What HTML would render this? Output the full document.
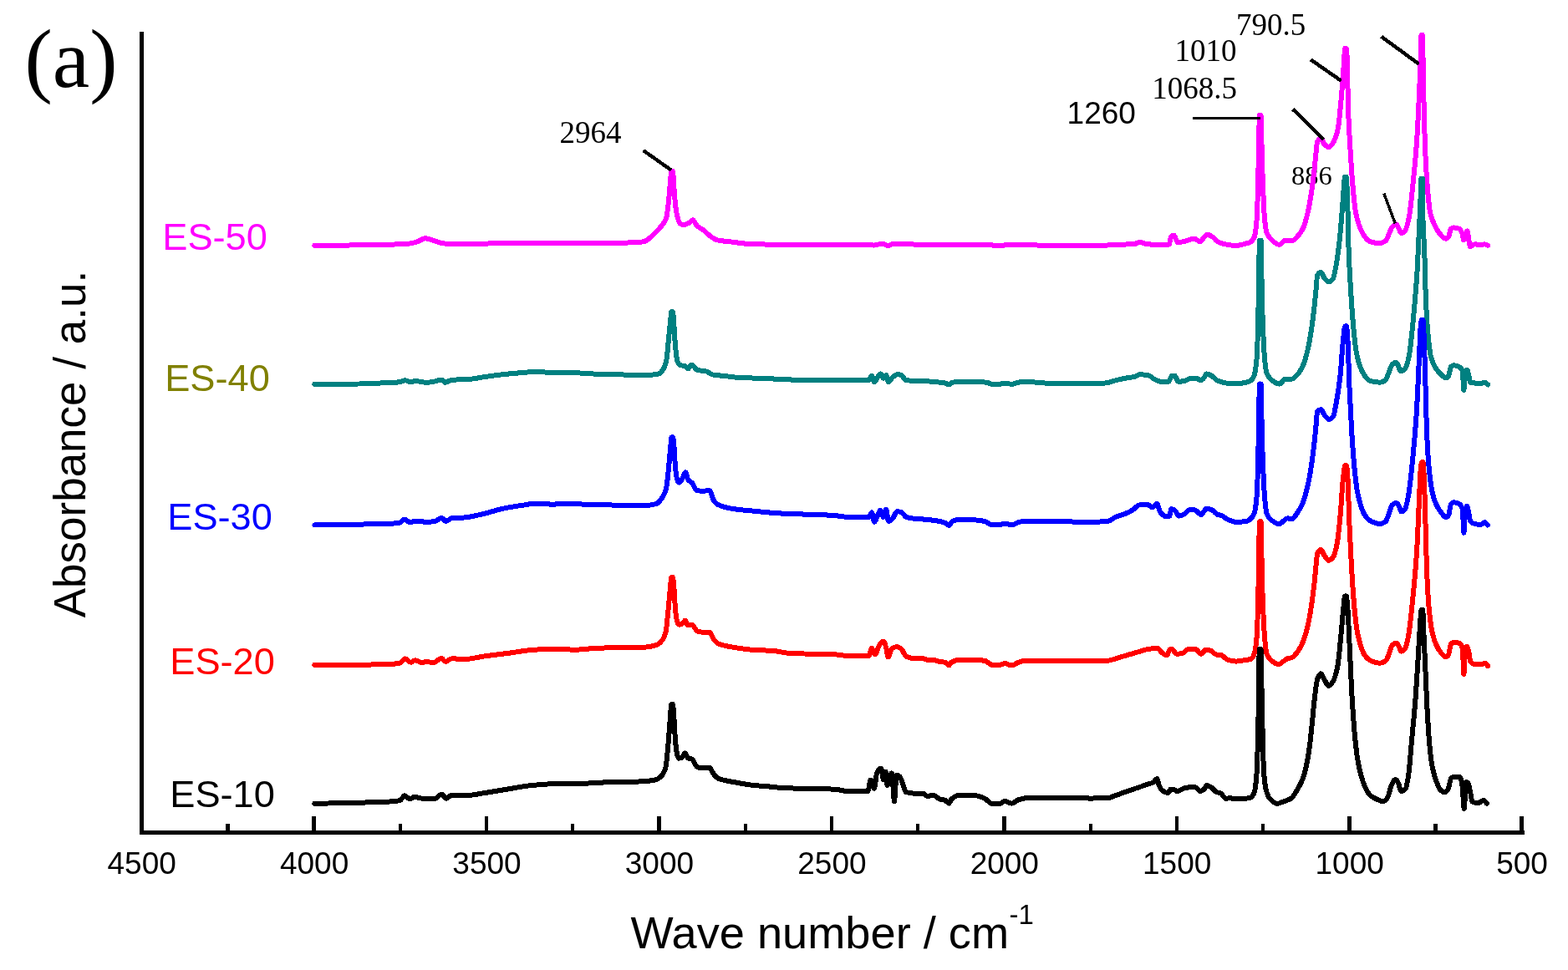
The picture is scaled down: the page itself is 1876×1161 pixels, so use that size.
<!DOCTYPE html>
<html lang="en"><head><meta charset="utf-8"><title>FTIR spectra (a)</title>
<style>
html,body{margin:0;padding:0;background:#fff;}
body{width:1876px;height:1161px;overflow:hidden;}
svg{display:block;}
.sans{font-family:"Liberation Sans",Arial,Helvetica,sans-serif;}
.serif{font-family:"Liberation Serif","Times New Roman",Times,serif;}
.curve{fill:none;stroke-width:6.0;stroke-linejoin:round;stroke-linecap:round;shape-rendering:crispEdges;}
.ann{stroke:#000;stroke-linecap:butt;fill:none;shape-rendering:crispEdges;}
</style></head><body>
<svg width="1876" height="1161" viewBox="0 0 1876 1161">
<rect x="0" y="0" width="1876" height="1161" fill="#ffffff"/>
<g class="serif" font-size="37" fill="#000">
<text x="669.5" y="170.8">2964</text>
<text x="1479.1" y="42">790.5</text>
<text x="1405.5" y="73.2">1010</text>
<text x="1378.3" y="118">1068.5</text>
<text x="1545" y="221.2" font-size="32.5">886</text>
</g>
<text class="sans" x="1276.6" y="148" font-size="37" fill="#000">1260</text>
<path class="curve" stroke="#ff00ff" d="M376.4,293.8C387.6,293.7 398.9,293.7 410.1,293.6C425.1,293.5 440.2,293.1 455.2,292.8C465.2,292.6 475.3,292.6 485.3,292.1C489.5,291.9 493.6,290.9 497.8,289.8C501.6,288.8 505.3,285.3 509.1,285.3C512.8,285.3 516.6,287.5 520.3,288.5C524.5,289.6 528.7,291.6 532.9,291.6C547.1,291.6 561.3,291.6 575.5,291.6C590.5,291.6 605.6,290.8 620.6,290.8C650.6,290.8 680.7,290.8 710.7,290.8C727.4,290.8 744.2,290.7 760.9,290.3C764.2,290.2 767.6,289.7 770.9,289.0C773.4,288.4 775.9,286.0 778.4,284.0C781.3,281.7 784.3,278.5 787.2,275.3C789.0,273.4 790.7,271.5 792.5,269.0C794.0,266.9 795.5,265.7 797.0,261.5C797.8,259.2 798.7,252.0 799.5,245.2C800.3,238.4 801.2,226.3 802.0,217.6C802.4,213.1 802.9,204.6 803.3,204.6C803.8,204.6 804.4,204.6 804.9,204.6C805.3,204.6 805.7,215.0 806.1,220.1C806.8,228.6 807.4,239.7 808.1,245.2C808.9,252.1 809.8,257.3 810.6,260.2C811.7,263.9 812.7,267.2 813.8,267.8C815.1,268.5 816.3,269.0 817.6,269.0C819.7,269.0 821.7,268.1 823.8,267.2C825.5,266.5 827.2,263.2 828.9,263.2C830.6,263.2 832.2,268.8 833.9,270.3C836.4,272.6 838.9,273.4 841.4,275.3C844.3,277.5 847.2,280.8 850.1,282.8C852.6,284.6 855.2,286.7 857.7,287.3C863.5,288.6 869.4,288.8 875.2,289.5C882.7,290.4 890.3,291.9 897.8,292.1C912.0,292.5 926.1,292.8 940.3,292.8C973.7,292.8 1007.2,292.8 1040.6,292.8C1042.3,292.8 1043.9,293.6 1045.6,293.6C1048.9,293.6 1052.3,291.6 1055.6,291.6C1057.9,291.6 1060.3,294.1 1062.6,294.1C1064.4,294.1 1066.3,291.8 1068.1,291.8C1072.3,291.8 1076.4,292.2 1080.6,292.3C1097.3,292.6 1114.0,292.8 1130.7,292.8C1147.4,292.8 1164.2,292.8 1180.9,292.8C1185.1,292.8 1189.2,294.1 1193.4,294.1C1199.2,294.1 1205.1,292.8 1210.9,292.8C1227.4,292.8 1244.0,293.9 1260.5,293.9C1267.9,293.9 1275.2,293.9 1282.6,293.9C1295.7,293.9 1308.8,293.8 1321.9,293.6C1328.7,293.5 1335.5,293.0 1342.3,292.7C1347.4,292.5 1352.6,292.4 1357.7,291.9C1359.7,291.7 1361.7,289.8 1363.7,289.8C1365.7,289.8 1367.6,291.1 1369.6,291.5C1372.5,292.1 1375.3,292.5 1378.2,292.7C1382.2,293.0 1386.1,293.2 1390.1,293.2C1392.9,293.2 1395.8,293.1 1398.6,292.7C1399.5,292.6 1400.3,284.1 1401.2,283.3C1402.3,282.3 1403.5,281.6 1404.6,281.6C1406.0,281.6 1407.5,290.2 1408.9,290.2C1411.7,290.2 1414.6,289.4 1417.4,288.8C1421.1,288.0 1424.8,285.6 1428.5,285.6C1431.1,285.6 1433.6,289.3 1436.2,289.3C1437.6,289.3 1439.0,285.5 1440.4,284.2C1441.8,282.8 1443.3,280.8 1444.7,280.8C1447.0,280.8 1449.2,282.7 1451.5,284.2C1452.9,285.2 1454.4,287.6 1455.8,288.5C1458.9,290.4 1462.1,291.6 1465.2,292.2C1469.7,293.1 1474.3,293.9 1478.8,293.9C1483.4,293.9 1487.9,292.3 1492.5,291.0C1493.7,290.7 1494.9,290.4 1496.1,289.7C1497.5,288.9 1499.0,287.5 1500.4,284.4C1501.5,282.0 1502.7,274.6 1503.8,260.4C1504.4,252.5 1505.1,218.3 1505.7,193.6C1506.1,176.7 1506.6,137.7 1507.0,137.7C1507.5,137.7 1508.1,137.7 1508.6,137.7C1509.1,137.7 1509.5,179.5 1510.0,193.6C1511.0,222.8 1511.9,250.0 1512.9,260.4C1513.7,269.0 1514.5,275.4 1515.3,277.7C1516.9,282.4 1518.5,284.1 1520.1,285.7C1523.7,289.3 1527.2,292.9 1530.8,292.9C1533.0,292.9 1535.3,287.9 1537.5,287.9C1540.2,287.9 1542.8,288.4 1545.5,288.4C1547.7,288.4 1550.0,285.4 1552.2,283.1C1554.4,280.9 1556.6,278.1 1558.8,273.7C1560.5,270.3 1562.2,264.4 1563.9,257.7C1565.3,252.2 1566.7,244.7 1568.1,236.3C1569.4,228.3 1570.8,218.3 1572.1,206.9C1572.9,200.0 1573.7,189.9 1574.5,182.9C1575.1,178.0 1575.6,170.7 1576.2,169.6C1577.5,166.9 1578.9,165.5 1580.2,165.5C1581.5,165.5 1582.9,170.8 1584.2,172.2C1586.0,174.1 1587.8,176.2 1589.6,176.2C1591.4,176.2 1593.1,173.5 1594.9,170.9C1596.9,168.0 1598.9,162.7 1600.9,153.5C1602.1,147.8 1603.4,132.2 1604.6,118.8C1605.8,106.1 1606.9,90.1 1608.1,73.4C1608.4,68.6 1608.8,58.0 1609.1,58.0C1609.6,58.0 1610.2,58.0 1610.7,58.0C1611.1,58.0 1611.5,65.0 1611.9,73.4C1612.2,80.4 1612.6,116.5 1612.9,126.8C1613.8,154.7 1614.7,165.3 1615.6,180.2C1616.7,199.0 1617.9,216.4 1619.0,228.3C1620.1,239.5 1621.1,249.6 1622.2,255.0C1624.0,264.1 1625.8,269.4 1627.6,273.7C1629.3,277.8 1631.1,280.9 1632.8,283.1C1634.9,285.8 1636.9,288.6 1639.0,289.2C1643.0,290.4 1647.0,291.1 1651.0,291.1C1653.2,291.1 1655.5,290.0 1657.7,288.4C1659.0,287.5 1660.4,283.2 1661.7,280.4C1663.0,277.6 1664.4,273.0 1665.7,271.6C1667.2,270.0 1668.7,268.4 1670.2,268.4C1671.4,268.4 1672.5,271.7 1673.7,273.7C1674.6,275.3 1675.5,279.1 1676.4,279.1C1677.9,279.1 1679.4,277.9 1680.9,276.4C1682.5,274.8 1684.2,268.1 1685.8,260.4C1687.4,253.0 1688.9,235.6 1690.5,220.3C1692.1,204.3 1693.8,188.8 1695.4,164.2C1696.4,148.6 1697.5,124.5 1698.5,100.1C1699.1,86.7 1699.6,78.8 1700.2,54.7C1700.3,51.9 1700.3,41.7 1700.4,41.7C1700.9,41.7 1701.5,41.7 1702.0,41.7C1702.1,41.7 1702.3,55.6 1702.4,62.7C1702.8,82.1 1703.1,105.9 1703.5,121.5C1704.1,145.6 1704.6,166.9 1705.2,180.2C1706.0,199.7 1706.9,212.9 1707.7,223.0C1708.9,237.1 1710.0,249.9 1711.2,255.0C1713.2,263.7 1715.2,267.1 1717.2,271.0C1719.6,275.6 1722.0,279.4 1724.4,281.7C1726.2,283.5 1728.0,285.7 1729.8,285.7C1730.9,285.7 1732.1,284.6 1733.2,283.1C1734.1,281.9 1735.0,274.4 1735.9,273.7C1737.0,272.9 1738.0,272.4 1739.1,272.4C1741.3,272.4 1743.6,272.9 1745.8,273.7C1747.1,274.2 1748.5,276.7 1749.8,280.4C1750.2,281.6 1750.7,287.1 1751.1,287.1C1751.7,287.1 1752.4,281.8 1753.0,280.4C1753.9,278.5 1754.8,276.4 1755.7,276.4C1756.2,276.4 1756.8,284.2 1757.3,287.1C1757.9,290.3 1758.5,295.1 1759.1,295.1C1760.9,295.1 1762.7,292.4 1764.5,292.4C1766.7,292.4 1769.0,292.9 1771.2,292.9C1773.0,292.9 1774.7,292.4 1776.5,292.4C1777.8,292.4 1779.0,293.3 1780.3,293.7"/>
<path class="curve" stroke="#008080" d="M376.4,459.8C394.3,459.7 412.2,459.7 430.1,459.5C438.5,459.4 446.8,458.9 455.2,458.5C462.7,458.2 470.3,458.1 477.8,457.3C480.1,457.1 482.5,455.3 484.8,455.3C487.0,455.3 489.3,457.3 491.5,457.3C493.2,457.3 494.8,456.0 496.5,456.0C501.1,456.0 505.7,457.8 510.3,457.8C513.6,457.8 517.0,457.1 520.3,456.5C523.0,456.0 525.7,454.5 528.4,454.5C529.7,454.5 531.1,457.8 532.4,457.8C535.1,457.8 537.7,455.0 540.4,454.8C547.1,454.3 553.7,454.4 560.4,454.0C567.1,453.6 573.8,451.9 580.5,451.0C587.2,450.1 593.8,449.0 600.5,448.3C608.9,447.4 617.2,446.7 625.6,446.0C632.3,445.5 638.9,444.5 645.6,444.5C648.9,444.5 652.3,446.0 655.6,446.0C664.0,446.0 672.3,446.0 680.7,446.0C692.4,446.0 704.1,447.4 715.8,447.8C725.8,448.1 735.8,448.5 745.8,448.5C757.5,448.5 769.2,448.5 780.9,448.5C783.4,448.5 785.9,448.0 788.4,447.3C790.2,446.8 792.0,444.4 793.8,441.5C795.0,439.5 796.3,436.2 797.5,430.2C798.3,426.2 799.2,413.5 800.0,405.2C800.8,396.9 801.7,387.7 802.5,380.1C802.8,377.7 803.0,373.3 803.3,373.3C803.8,373.3 804.4,373.3 804.9,373.3C805.3,373.3 805.7,380.4 806.1,385.1C806.8,392.9 807.4,408.7 808.1,415.2C808.9,423.3 809.8,430.7 810.6,432.7C811.7,435.3 812.7,436.9 813.8,437.2C815.5,437.6 817.1,437.4 818.8,437.8C820.2,438.1 821.7,441.5 823.1,441.5C824.6,441.5 826.1,436.5 827.6,436.5C829.7,436.5 831.8,442.2 833.9,442.8C837.6,443.9 841.4,443.6 845.1,444.5C847.6,445.1 850.2,448.0 852.7,448.5C856.9,449.3 861.0,449.4 865.2,449.8C871.9,450.5 878.5,451.7 885.2,452.0C893.6,452.4 901.9,452.5 910.3,452.8C918.6,453.1 927.0,453.6 935.3,454.0C942.0,454.3 948.7,454.7 955.4,454.8C970.4,455.1 985.5,455.3 1000.5,455.3C1013.4,455.3 1026.4,455.3 1039.3,455.3C1040.6,455.3 1041.8,449.8 1043.1,449.8C1044.1,449.8 1045.1,457.3 1046.1,457.3C1047.4,457.3 1048.8,453.2 1050.1,451.5C1051.3,450.0 1052.4,447.3 1053.6,447.3C1054.7,447.3 1055.7,452.8 1056.8,452.8C1057.9,452.8 1059.0,449.0 1060.1,449.0C1061.1,449.0 1062.1,457.3 1063.1,457.3C1064.8,457.3 1066.4,452.8 1068.1,451.5C1070.2,449.8 1072.3,447.8 1074.4,447.8C1075.6,447.8 1076.9,448.4 1078.1,449.0C1080.2,450.0 1082.3,455.1 1084.4,455.3C1091.1,455.8 1097.7,455.7 1104.4,456.0C1109.0,456.2 1113.6,456.6 1118.2,457.0C1122.4,457.4 1126.5,457.7 1130.7,458.5C1132.2,458.8 1133.8,460.3 1135.3,460.3C1136.7,460.3 1138.1,458.2 1139.5,457.8C1142.4,457.1 1145.4,456.5 1148.3,456.5C1155.8,456.5 1163.3,456.7 1170.8,457.0C1174.2,457.1 1177.5,457.4 1180.9,457.8C1183.0,458.1 1185.0,459.8 1187.1,459.8C1190.0,459.8 1193.0,459.8 1195.9,459.8C1198.0,459.8 1200.0,458.5 1202.1,458.5C1204.9,458.5 1207.6,459.8 1210.4,459.8C1213.1,459.8 1215.7,458.3 1218.4,457.8C1220.9,457.3 1223.4,456.5 1225.9,456.5C1234.0,456.5 1242.1,458.5 1250.2,458.5C1274.1,458.5 1298.0,458.5 1321.9,458.5C1326.4,458.5 1331.0,456.2 1335.5,455.1C1338.9,454.3 1342.4,453.5 1345.8,452.8C1349.8,452.0 1353.7,451.8 1357.7,450.8C1359.7,450.3 1361.7,448.2 1363.7,448.2C1367.4,448.2 1371.1,448.8 1374.8,449.6C1377.1,450.1 1379.3,453.2 1381.6,454.2C1384.4,455.5 1387.3,457.1 1390.1,457.1C1392.7,457.1 1395.2,457.1 1397.8,457.1C1399.2,457.1 1400.6,450.1 1402.0,449.9C1403.2,449.7 1404.3,449.6 1405.5,449.6C1406.9,449.6 1408.3,456.8 1409.7,456.8C1412.3,456.8 1414.8,456.4 1417.4,455.9C1420.0,455.4 1422.5,452.5 1425.1,452.5C1427.4,452.5 1429.6,452.7 1431.9,453.0C1433.3,453.2 1434.8,455.1 1436.2,455.1C1437.3,455.1 1438.5,454.2 1439.6,453.3C1441.0,452.2 1442.4,447.4 1443.8,447.4C1445.8,447.4 1447.8,448.8 1449.8,449.9C1451.8,451.0 1453.8,454.2 1455.8,455.1C1460.1,457.1 1464.3,458.5 1468.6,458.8C1472.0,459.1 1475.4,459.3 1478.8,459.3C1483.4,459.3 1487.9,458.4 1492.5,457.3C1493.7,457.0 1494.9,456.6 1496.1,455.8C1497.5,454.9 1499.0,453.1 1500.4,449.7C1501.5,447.0 1502.7,440.6 1503.8,427.0C1504.4,419.4 1505.1,387.9 1505.7,360.2C1506.1,341.2 1506.6,287.5 1507.0,287.5C1507.5,287.5 1508.1,287.5 1508.6,287.5C1509.1,287.5 1509.5,344.6 1510.0,360.2C1511.0,392.5 1511.9,415.9 1512.9,427.0C1513.7,436.2 1514.5,443.3 1515.3,445.7C1516.9,450.4 1518.5,452.3 1520.1,453.7C1523.7,456.9 1527.2,459.6 1530.8,459.6C1533.0,459.6 1535.3,453.7 1537.5,453.7C1540.2,453.7 1542.8,453.7 1545.5,453.7C1547.7,453.7 1550.0,450.8 1552.2,448.4C1554.4,446.1 1556.6,442.5 1558.8,437.7C1560.5,434.0 1562.2,428.4 1563.9,421.7C1565.3,416.2 1566.7,408.7 1568.1,400.3C1569.4,392.3 1570.8,382.3 1572.1,370.9C1572.9,364.0 1573.7,355.0 1574.5,346.9C1575.1,341.1 1575.6,330.2 1576.2,329.3C1577.6,327.0 1579.1,326.1 1580.5,326.1C1581.7,326.1 1583.0,330.7 1584.2,332.2C1586.0,334.5 1587.8,337.5 1589.6,337.5C1591.4,337.5 1593.1,335.9 1594.9,333.5C1596.1,331.8 1597.4,324.2 1598.6,317.5C1600.0,309.7 1601.5,298.7 1602.9,285.5C1604.2,273.2 1605.6,253.2 1606.9,237.4C1607.6,228.7 1608.4,211.6 1609.1,211.6C1609.6,211.6 1610.2,211.6 1610.7,211.6C1611.2,211.6 1611.6,225.5 1612.1,237.4C1612.6,249.3 1613.0,283.0 1613.5,296.1C1614.4,321.3 1615.3,335.1 1616.2,349.6C1617.3,367.8 1618.5,383.4 1619.6,395.0C1620.7,405.9 1621.7,416.1 1622.8,421.7C1624.5,430.6 1626.2,436.2 1627.9,440.4C1629.5,444.5 1631.2,447.6 1632.8,449.7C1634.9,452.4 1636.9,455.2 1639.0,455.8C1643.0,457.0 1647.0,457.7 1651.0,457.7C1653.2,457.7 1655.5,456.6 1657.7,455.0C1659.0,454.0 1660.4,448.8 1661.7,445.7C1663.0,442.6 1664.4,437.7 1665.7,436.4C1667.2,435.0 1668.7,433.7 1670.2,433.7C1671.1,433.7 1672.0,436.0 1672.9,437.7C1673.8,439.3 1674.6,444.4 1675.5,444.4C1677.3,444.4 1679.1,443.3 1680.9,441.7C1682.5,440.3 1684.1,434.2 1685.7,427.0C1687.3,419.9 1688.8,402.5 1690.4,386.9C1692.0,370.6 1693.7,353.5 1695.3,328.2C1696.3,312.2 1697.4,287.0 1698.4,264.1C1699.0,251.5 1699.5,240.7 1700.1,224.0C1700.2,221.0 1700.3,213.5 1700.4,213.5C1700.9,213.5 1701.5,213.5 1702.0,213.5C1702.0,213.5 1702.1,240.5 1702.1,242.7C1702.8,290.8 1703.6,279.3 1704.3,301.5C1704.9,318.7 1705.4,347.5 1706.0,360.2C1706.8,378.9 1707.7,391.5 1708.5,400.3C1709.7,412.6 1710.8,422.5 1712.0,427.0C1713.8,434.0 1715.7,437.5 1717.5,440.4C1719.8,444.1 1722.1,446.3 1724.4,448.4C1726.2,450.0 1728.0,452.4 1729.8,452.4C1730.9,452.4 1732.1,451.2 1733.2,449.7C1734.1,448.5 1735.0,439.9 1735.9,439.0C1737.0,437.9 1738.0,437.2 1739.1,437.2C1741.3,437.2 1743.6,437.9 1745.8,439.0C1747.1,439.6 1748.5,440.7 1749.8,444.4C1750.3,445.9 1750.9,467.0 1751.4,467.0C1751.9,467.0 1752.5,450.9 1753.0,448.4C1753.7,445.1 1754.4,442.5 1755.1,442.5C1755.8,442.5 1756.6,446.9 1757.3,449.7C1757.9,452.0 1758.5,457.5 1759.1,457.7C1760.9,458.3 1762.7,458.3 1764.5,458.5C1766.7,458.8 1769.0,459.1 1771.2,459.1C1773.0,459.1 1774.7,457.7 1776.5,457.7C1777.8,457.7 1779.0,459.5 1780.3,460.4"/>
<path class="curve" stroke="#0000ff" d="M376.4,628.5C387.6,628.3 398.9,628.2 410.1,628.0C425.1,627.7 440.2,627.5 455.2,627.0C462.7,626.8 470.3,626.8 477.8,626.0C479.9,625.8 481.9,621.5 484.0,621.5C486.1,621.5 488.2,625.3 490.3,625.3C492.4,625.3 494.4,623.5 496.5,623.5C501.1,623.5 505.7,624.8 510.3,624.8C513.6,624.8 517.0,624.5 520.3,624.0C523.0,623.6 525.7,619.8 528.4,619.8C530.1,619.8 531.7,624.0 533.4,624.0C535.7,624.0 538.1,620.6 540.4,620.3C545.4,619.8 550.4,619.9 555.4,619.5C563.8,618.8 572.1,616.4 580.5,614.5C587.2,613.0 593.8,610.4 600.5,609.0C608.9,607.2 617.2,605.9 625.6,604.7C630.6,604.0 635.6,602.7 640.6,602.7C644.8,602.7 648.9,602.7 653.1,602.7C655.6,602.7 658.1,604.0 660.6,604.0C664.0,604.0 667.3,602.7 670.7,602.7C674.9,602.7 679.0,603.1 683.2,603.2C694.1,603.5 704.9,603.7 715.8,604.0C724.1,604.2 732.5,604.7 740.8,604.7C752.5,604.7 764.2,604.7 775.9,604.7C779.2,604.7 782.6,603.9 785.9,602.7C788.1,601.9 790.3,598.6 792.5,595.2C794.0,592.9 795.5,590.7 797.0,585.2C798.0,581.5 799.0,569.6 800.0,560.1C800.8,552.1 801.7,540.9 802.5,532.6C802.8,529.3 803.2,523.3 803.5,523.3C804.0,523.3 804.6,523.3 805.1,523.3C805.5,523.3 805.9,528.6 806.3,532.6C806.9,538.6 807.5,554.4 808.1,560.1C808.8,566.5 809.4,572.2 810.1,573.9C810.9,576.0 811.8,577.7 812.6,577.7C814.1,577.7 815.6,573.9 817.1,571.4C818.1,569.7 819.1,565.2 820.1,565.2C821.1,565.2 822.1,572.5 823.1,573.9C824.8,576.2 826.4,576.4 828.1,578.2C830.0,580.3 832.0,586.9 833.9,587.2C836.0,587.5 838.0,587.7 840.1,587.7C843.0,587.7 846.0,587.2 848.9,587.2C850.6,587.2 852.2,596.7 853.9,599.0C855.6,601.3 857.2,603.2 858.9,604.0C866.0,607.3 873.1,608.5 880.2,609.5C886.9,610.5 893.6,610.8 900.3,611.5C907.0,612.2 913.6,613.0 920.3,613.5C930.3,614.3 940.4,615.0 950.4,615.3C958.7,615.5 967.1,615.6 975.4,615.8C983.8,616.1 992.1,616.6 1000.5,617.3C1005.5,617.7 1010.5,619.0 1015.5,619.0C1023.4,619.0 1031.4,619.0 1039.3,619.0C1040.6,619.0 1041.8,613.3 1043.1,613.3C1044.1,613.3 1045.1,624.8 1046.1,624.8C1047.2,624.8 1048.2,621.1 1049.3,619.0C1050.6,616.5 1051.8,610.8 1053.1,610.8C1054.3,610.8 1055.6,619.0 1056.8,619.0C1057.9,619.0 1059.0,609.8 1060.1,609.8C1061.1,609.8 1062.1,624.0 1063.1,624.0C1064.8,624.0 1066.4,622.0 1068.1,620.3C1069.8,618.6 1071.4,612.3 1073.1,612.3C1074.8,612.3 1076.4,612.5 1078.1,612.8C1080.2,613.2 1082.3,618.3 1084.4,619.0C1088.2,620.2 1091.9,620.7 1095.7,621.0C1098.6,621.2 1101.5,621.3 1104.4,621.5C1108.6,621.8 1112.8,622.2 1117.0,622.8C1121.6,623.4 1126.1,624.1 1130.7,625.8C1132.2,626.4 1133.8,629.0 1135.3,629.0C1136.7,629.0 1138.1,624.7 1139.5,624.0C1142.4,622.5 1145.4,621.5 1148.3,621.5C1154.1,621.5 1160.0,621.9 1165.8,622.3C1170.0,622.6 1174.1,623.1 1178.3,624.0C1181.2,624.6 1184.2,628.3 1187.1,628.3C1190.0,628.3 1193.0,628.3 1195.9,628.3C1198.0,628.3 1200.0,626.5 1202.1,626.5C1204.9,626.5 1207.6,628.5 1210.4,628.5C1213.1,628.5 1215.7,626.1 1218.4,625.3C1220.9,624.6 1223.4,623.5 1225.9,623.5C1238.0,623.5 1250.1,623.9 1262.2,624.1C1276.4,624.3 1290.6,624.8 1304.8,624.8C1311.6,624.8 1318.5,624.5 1325.3,623.9C1328.7,623.6 1332.1,619.9 1335.5,618.5C1338.9,617.1 1342.4,616.5 1345.8,615.1C1349.2,613.7 1352.6,612.0 1356.0,609.9C1358.3,608.5 1360.5,604.7 1362.8,604.5C1366.2,604.2 1369.6,604.0 1373.0,604.0C1375.0,604.0 1377.0,607.4 1379.0,607.4C1380.7,607.4 1382.4,602.8 1384.1,602.8C1385.5,602.8 1387.0,611.6 1388.4,613.3C1390.7,616.0 1392.9,618.5 1395.2,618.5C1396.6,618.5 1398.1,618.3 1399.5,617.6C1400.1,617.3 1400.6,609.1 1401.2,609.1C1402.6,609.1 1404.1,609.9 1405.5,610.8C1407.2,611.8 1408.9,617.6 1410.6,617.6C1412.9,617.6 1415.1,616.3 1417.4,615.1C1419.4,614.1 1421.4,610.3 1423.4,610.3C1425.4,610.3 1427.3,610.3 1429.3,610.3C1431.9,610.3 1434.4,615.9 1437.0,615.9C1439.3,615.9 1441.5,608.6 1443.8,608.6C1446.1,608.6 1448.4,609.7 1450.7,610.8C1452.7,611.7 1454.6,615.3 1456.6,615.9C1458.0,616.4 1459.5,616.4 1460.9,616.8C1463.5,617.6 1466.0,620.4 1468.6,621.5C1472.0,623.0 1475.4,624.9 1478.8,624.9C1483.4,624.9 1487.9,624.5 1492.5,623.6C1493.7,623.4 1494.9,622.3 1496.1,621.2C1497.5,619.9 1499.0,618.5 1500.4,615.0C1501.5,612.2 1502.7,605.9 1503.8,592.3C1504.4,584.7 1505.1,552.2 1505.7,525.6C1506.1,507.4 1506.6,459.5 1507.0,459.5C1507.5,459.5 1508.1,459.5 1508.6,459.5C1509.1,459.5 1509.5,510.6 1510.0,525.6C1511.0,556.7 1511.9,580.0 1512.9,592.3C1513.7,602.4 1514.5,611.3 1515.3,613.7C1516.9,618.6 1518.5,620.4 1520.1,621.7C1523.7,624.7 1527.2,627.1 1530.8,627.1C1532.6,627.1 1534.3,624.4 1536.1,623.1C1537.4,622.2 1538.8,620.4 1540.1,620.4C1541.9,620.4 1543.7,621.2 1545.5,621.2C1547.7,621.2 1550.0,616.8 1552.2,613.7C1554.4,610.6 1556.6,607.0 1558.8,601.7C1560.5,597.6 1562.2,591.3 1563.9,584.3C1565.3,578.6 1566.7,571.4 1568.1,563.0C1569.4,555.0 1570.8,545.0 1572.1,533.6C1572.9,526.7 1573.7,517.7 1574.5,509.6C1575.1,503.9 1575.6,492.8 1576.2,492.2C1577.6,490.7 1579.1,490.1 1580.5,490.1C1581.7,490.1 1583.0,494.6 1584.2,496.2C1586.1,498.6 1587.9,501.8 1589.8,501.8C1591.5,501.8 1593.2,500.7 1594.9,498.9C1596.1,497.6 1597.4,489.2 1598.6,482.8C1600.2,474.5 1601.8,464.8 1603.4,450.8C1604.6,440.6 1605.7,418.7 1606.9,408.1C1607.7,400.8 1608.5,390.3 1609.3,390.3C1609.8,390.3 1610.4,390.3 1610.9,390.3C1611.4,390.3 1612.0,399.7 1612.5,408.1C1613.1,418.1 1613.8,446.6 1614.4,461.5C1615.3,482.6 1616.2,500.4 1617.1,514.9C1618.2,533.1 1619.4,548.7 1620.5,560.3C1621.6,571.2 1622.6,581.0 1623.7,587.0C1625.2,595.6 1626.8,601.1 1628.3,605.7C1629.8,610.2 1631.3,614.1 1632.8,616.4C1634.9,619.5 1636.9,622.0 1639.0,623.1C1643.0,625.3 1647.0,627.1 1651.0,627.1C1653.2,627.1 1655.5,626.0 1657.7,624.4C1659.0,623.4 1660.4,618.3 1661.7,615.0C1663.0,611.7 1664.4,605.6 1665.7,604.4C1667.3,602.9 1668.9,601.8 1670.5,601.8C1671.6,601.8 1672.6,603.9 1673.7,605.7C1674.6,607.2 1675.5,612.4 1676.4,612.4C1677.9,612.4 1679.4,611.3 1680.9,609.7C1682.3,608.2 1683.8,600.1 1685.2,592.3C1686.8,583.8 1688.3,567.9 1689.9,552.3C1691.5,536.1 1693.2,518.8 1694.8,493.5C1695.8,477.5 1696.9,451.5 1697.9,429.4C1698.5,417.3 1699.0,397.8 1699.6,392.0C1700.0,387.5 1700.5,383.0 1700.9,383.0C1701.4,383.0 1702.0,383.0 1702.5,383.0C1703.0,383.0 1703.4,397.3 1703.9,408.1C1704.4,420.5 1705.0,443.4 1705.5,461.5C1706.1,480.7 1706.6,507.5 1707.2,520.2C1708.0,538.9 1708.9,551.5 1709.7,560.3C1710.9,572.6 1712.0,581.5 1713.2,587.0C1714.8,594.6 1716.4,599.4 1718.0,603.0C1720.1,607.8 1722.3,611.0 1724.4,613.7C1726.2,615.9 1728.0,619.1 1729.8,619.1C1730.9,619.1 1732.1,618.0 1733.2,616.4C1734.1,615.1 1735.0,604.8 1735.9,603.6C1737.0,602.2 1738.0,601.2 1739.1,601.2C1741.3,601.2 1743.6,601.9 1745.8,603.0C1747.1,603.7 1748.5,605.1 1749.8,609.7C1750.3,611.5 1750.9,637.7 1751.4,637.7C1751.9,637.7 1752.5,617.0 1753.0,613.7C1753.7,609.3 1754.4,605.7 1755.1,605.7C1755.8,605.7 1756.6,610.4 1757.3,613.7C1757.9,616.4 1758.5,623.2 1759.1,623.9C1760.9,626.1 1762.7,626.7 1764.5,627.1C1766.7,627.6 1769.0,627.9 1771.2,627.9C1773.0,627.9 1774.7,625.2 1776.5,625.2C1777.6,625.2 1778.7,627.3 1779.8,628.4"/>
<path class="curve" stroke="#ff0000" d="M376.4,795.8C387.6,795.8 398.9,795.8 410.1,795.8C425.1,795.8 440.2,795.6 455.2,795.3C462.7,795.1 470.3,795.0 477.8,794.0C480.1,793.7 482.5,788.3 484.8,788.3C487.0,788.3 489.3,792.8 491.5,792.8C493.2,792.8 494.8,790.3 496.5,790.3C499.0,790.3 501.6,792.8 504.1,792.8C506.2,792.8 508.2,792.3 510.3,792.3C513.2,792.3 516.2,792.8 519.1,792.8C522.2,792.8 525.3,787.8 528.4,787.8C529.9,787.8 531.4,792.0 532.9,792.0C535.4,792.0 537.9,788.3 540.4,788.3C545.4,788.3 550.4,789.0 555.4,789.0C563.8,789.0 572.1,786.4 580.5,785.3C590.5,783.9 600.5,782.8 610.5,781.5C619.7,780.3 628.9,778.3 638.1,777.8C649.8,777.1 661.5,776.5 673.2,776.5C677.4,776.5 681.5,777.8 685.7,777.8C695.7,777.8 705.8,776.0 715.8,775.7C734.2,775.1 752.5,775.4 770.9,774.7C775.1,774.5 779.2,773.8 783.4,772.7C785.6,772.1 787.8,770.9 790.0,769.0C792.1,767.2 794.2,764.4 796.3,757.7C797.4,754.3 798.4,740.5 799.5,730.1C800.3,722.0 801.2,710.8 802.0,702.6C802.4,698.3 802.9,690.8 803.3,690.8C803.8,690.8 804.4,690.8 804.9,690.8C805.4,690.8 805.8,697.6 806.3,702.6C806.9,709.0 807.5,724.4 808.1,730.1C808.8,736.5 809.4,742.2 810.1,743.9C810.9,746.0 811.8,747.7 812.6,747.7C813.8,747.7 815.1,747.1 816.3,746.4C817.4,745.8 818.5,742.7 819.6,742.7C820.8,742.7 821.9,748.4 823.1,748.4C824.8,748.4 826.4,747.7 828.1,747.7C830.0,747.7 832.0,754.4 833.9,755.2C835.6,755.9 837.2,756.5 838.9,756.5C842.2,756.5 845.6,756.5 848.9,756.5C850.6,756.5 852.2,763.1 853.9,765.2C855.6,767.3 857.2,769.5 858.9,770.2C866.0,773.3 873.1,774.0 880.2,775.2C886.9,776.3 893.6,777.3 900.3,777.8C908.6,778.4 917.0,778.4 925.3,779.0C932.0,779.5 938.7,781.7 945.4,782.0C955.4,782.5 965.4,782.5 975.4,782.8C983.8,783.0 992.1,783.1 1000.5,783.5C1004.7,783.7 1008.8,784.8 1013.0,784.8C1021.8,784.8 1030.5,784.8 1039.3,784.8C1040.6,784.8 1041.8,775.7 1043.1,775.7C1044.3,775.7 1045.6,783.3 1046.8,783.3C1048.5,783.3 1050.1,775.2 1051.8,772.7C1053.2,770.6 1054.6,767.9 1056.0,767.9C1056.5,767.9 1057.1,767.9 1057.6,767.9C1058.4,767.9 1059.3,772.2 1060.1,775.2C1060.9,778.2 1061.8,786.5 1062.6,786.5C1064.0,786.5 1065.5,777.5 1066.9,776.5C1069.0,775.0 1071.0,774.0 1073.1,774.0C1074.8,774.0 1076.4,775.3 1078.1,776.5C1080.2,778.0 1082.3,784.9 1084.4,785.8C1088.2,787.4 1091.9,788.3 1095.7,788.3C1098.6,788.3 1101.5,788.3 1104.4,788.3C1106.1,788.3 1107.8,789.8 1109.5,789.8C1112.0,789.8 1114.5,789.8 1117.0,789.8C1119.5,789.8 1122.0,791.6 1124.5,792.0C1126.6,792.4 1128.6,792.3 1130.7,792.8C1132.2,793.2 1133.8,796.5 1135.3,796.5C1136.3,796.5 1137.3,793.4 1138.3,792.8C1141.6,790.9 1145.0,789.5 1148.3,789.5C1154.1,789.5 1160.0,789.6 1165.8,789.8C1170.0,789.9 1174.1,790.2 1178.3,790.8C1181.2,791.2 1184.2,795.8 1187.1,795.8C1190.0,795.8 1193.0,795.8 1195.9,795.8C1198.0,795.8 1200.0,794.0 1202.1,794.0C1204.9,794.0 1207.6,796.5 1210.4,796.5C1213.1,796.5 1215.7,793.7 1218.4,792.8C1220.9,792.0 1223.4,790.8 1225.9,790.8C1252.2,790.8 1278.5,791.3 1304.8,791.3C1311.6,791.3 1318.5,791.1 1325.3,790.7C1329.8,790.4 1334.4,788.3 1338.9,787.0C1345.7,785.1 1352.6,783.0 1359.4,781.0C1363.9,779.7 1368.5,777.8 1373.0,777.1C1377.0,776.5 1381.0,775.9 1385.0,775.9C1386.7,775.9 1388.4,779.8 1390.1,781.0C1392.1,782.5 1394.1,784.4 1396.1,784.4C1397.2,784.4 1398.4,778.0 1399.5,777.6C1400.3,777.3 1401.2,777.1 1402.0,777.1C1404.0,777.1 1406.0,782.7 1408.0,782.7C1410.0,782.7 1412.0,782.5 1414.0,782.2C1416.8,781.8 1419.7,776.8 1422.5,776.8C1425.1,776.8 1427.6,776.8 1430.2,776.8C1432.5,776.8 1434.7,782.7 1437.0,782.7C1439.0,782.7 1441.0,777.6 1443.0,777.6C1444.7,777.6 1446.4,778.0 1448.1,778.5C1450.7,779.2 1453.2,783.6 1455.8,783.6C1457.2,783.6 1458.6,783.6 1460.0,783.6C1462.9,783.6 1465.7,788.7 1468.6,789.6C1472.0,790.7 1475.4,791.6 1478.8,791.6C1483.4,791.6 1487.9,790.2 1492.5,789.6C1493.7,789.5 1494.9,789.4 1496.1,789.2C1497.5,788.9 1499.0,786.5 1500.4,783.1C1501.5,780.4 1502.7,774.0 1503.8,760.4C1504.4,752.8 1505.1,720.8 1505.7,693.6C1506.1,675.0 1506.6,624.3 1507.0,624.3C1507.5,624.3 1508.1,624.3 1508.6,624.3C1509.1,624.3 1509.5,678.3 1510.0,693.6C1511.0,725.3 1511.9,748.2 1512.9,760.4C1513.7,770.5 1514.5,779.3 1515.3,781.7C1516.9,786.6 1518.5,788.3 1520.1,789.7C1523.2,792.5 1526.4,795.1 1529.5,795.1C1531.7,795.1 1533.9,792.5 1536.1,791.1C1537.4,790.2 1538.8,788.9 1540.1,788.4C1541.9,787.7 1543.7,787.8 1545.5,787.1C1547.7,786.3 1550.0,783.3 1552.2,780.4C1554.4,777.6 1556.6,773.5 1558.8,768.4C1560.5,764.4 1562.2,759.0 1563.9,752.3C1565.3,746.8 1566.7,739.4 1568.1,731.0C1569.4,723.0 1570.8,713.0 1572.1,701.6C1572.9,694.7 1573.7,685.1 1574.5,677.6C1575.1,672.3 1575.6,663.8 1576.2,662.6C1577.6,659.6 1579.1,658.1 1580.5,658.1C1581.7,658.1 1583.0,662.4 1584.2,664.2C1586.0,666.8 1587.8,670.9 1589.6,670.9C1591.4,670.9 1593.1,669.1 1594.9,666.9C1596.5,664.9 1598.1,658.8 1599.7,650.9C1600.9,644.8 1602.2,631.6 1603.4,618.8C1604.6,606.6 1605.7,583.6 1606.9,573.4C1607.7,566.4 1608.5,557.2 1609.3,557.2C1609.8,557.2 1610.4,557.2 1610.9,557.2C1611.4,557.2 1612.0,565.6 1612.5,573.4C1613.1,582.7 1613.8,611.9 1614.4,626.8C1615.3,647.9 1616.2,665.3 1617.1,680.2C1618.2,699.0 1619.4,716.4 1620.5,728.3C1621.6,739.5 1622.6,749.0 1623.7,755.0C1625.2,763.6 1626.8,769.1 1628.3,773.7C1629.8,778.2 1631.3,782.3 1632.8,784.4C1634.9,787.3 1636.9,789.3 1639.0,790.3C1643.0,792.2 1647.0,793.7 1651.0,793.7C1653.2,793.7 1655.5,792.6 1657.7,791.1C1659.0,790.2 1660.4,786.2 1661.7,783.1C1663.0,780.0 1664.4,773.7 1665.7,772.4C1667.3,770.9 1668.9,769.7 1670.5,769.7C1671.6,769.7 1672.6,772.0 1673.7,773.7C1674.6,775.1 1675.5,779.6 1676.4,779.6C1677.9,779.6 1679.4,778.2 1680.9,776.4C1682.3,774.7 1683.8,767.8 1685.2,760.4C1686.8,752.3 1688.3,735.6 1689.9,720.3C1691.5,704.3 1693.2,688.8 1694.8,664.2C1695.8,648.6 1696.9,622.2 1697.9,600.1C1698.5,588.0 1699.0,568.8 1699.6,562.7C1700.0,558.0 1700.5,553.1 1700.9,553.1C1701.4,553.1 1702.0,553.1 1702.5,553.1C1703.0,553.1 1703.4,564.0 1703.9,573.4C1704.4,584.1 1705.0,608.7 1705.5,626.8C1706.1,646.0 1706.6,672.4 1707.2,685.6C1708.0,705.1 1708.9,719.3 1709.7,728.3C1710.9,740.9 1712.0,749.5 1713.2,755.0C1714.8,762.6 1716.4,767.4 1718.0,771.0C1720.1,775.8 1722.3,779.2 1724.4,781.7C1726.2,783.8 1728.0,786.5 1729.8,786.5C1730.9,786.5 1732.1,785.0 1733.2,783.1C1734.1,781.6 1735.0,772.1 1735.9,771.0C1737.0,769.8 1738.0,768.9 1739.1,768.9C1741.3,768.9 1743.6,769.2 1745.8,769.7C1747.1,770.0 1748.5,771.7 1749.8,776.4C1750.3,778.3 1750.9,807.0 1751.4,807.0C1751.9,807.0 1752.5,783.3 1753.0,780.4C1753.7,776.5 1754.4,773.7 1755.1,773.7C1755.8,773.7 1756.6,777.4 1757.3,780.4C1757.9,782.8 1758.5,790.2 1759.1,791.1C1760.9,793.8 1762.7,795.1 1764.5,795.1C1767.2,795.1 1769.8,795.1 1772.5,795.1C1774.0,795.1 1775.5,793.7 1777.0,793.7C1778.1,793.7 1779.2,796.0 1780.3,797.2"/>
<path class="curve" stroke="#000000" d="M376.4,961.8C387.6,961.6 398.9,961.4 410.1,961.1C430.1,960.6 450.2,960.5 470.2,959.3C473.1,959.1 476.1,958.7 479.0,957.8C480.7,957.3 482.3,952.3 484.0,952.3C486.1,952.3 488.2,956.5 490.3,956.5C492.0,956.5 493.6,954.0 495.3,954.0C500.3,954.0 505.3,956.5 510.3,956.5C513.6,956.5 517.0,956.3 520.3,956.0C523.0,955.7 525.7,950.8 528.4,950.8C530.3,950.8 532.2,955.8 534.1,955.8C536.2,955.8 538.3,951.5 540.4,951.5C545.4,951.5 550.4,952.3 555.4,952.3C563.8,952.3 572.1,950.2 580.5,949.0C590.5,947.5 600.5,945.6 610.5,944.0C619.7,942.5 628.9,940.6 638.1,939.8C649.8,938.8 661.5,937.8 673.2,937.8C677.4,937.8 681.5,938.5 685.7,938.5C695.7,938.5 705.8,937.1 715.8,936.7C734.2,936.0 752.5,936.2 770.9,935.2C775.1,935.0 779.2,934.4 783.4,933.5C785.6,933.0 787.8,931.9 790.0,930.2C792.1,928.6 794.2,925.7 796.3,919.0C797.4,915.6 798.4,901.6 799.5,890.1C800.3,881.2 801.2,867.7 802.0,857.6C802.4,852.4 802.9,842.7 803.3,842.7C803.8,842.7 804.4,842.7 804.9,842.7C805.4,842.7 805.8,851.6 806.3,857.6C806.9,865.3 807.5,881.3 808.1,887.6C808.8,894.6 809.4,900.2 810.1,902.7C810.8,905.2 811.4,907.7 812.1,907.7C813.5,907.7 814.9,907.1 816.3,906.4C817.4,905.8 818.5,901.4 819.6,901.4C820.8,901.4 821.9,906.5 823.1,907.2C824.8,908.2 826.4,908.0 828.1,908.9C830.0,910.0 832.0,916.6 833.9,917.7C835.6,918.7 837.2,919.5 838.9,919.5C842.2,919.5 845.6,919.0 848.9,919.0C850.6,919.0 852.2,924.5 853.9,926.5C855.6,928.5 857.2,930.8 858.9,931.5C866.0,934.6 873.1,935.1 880.2,936.5C886.9,937.8 893.6,939.0 900.3,939.8C907.0,940.5 913.6,940.9 920.3,941.5C927.0,942.1 933.6,943.1 940.3,943.3C952.0,943.7 963.7,943.7 975.4,944.0C983.8,944.2 992.1,944.3 1000.5,944.8C1004.7,945.0 1008.8,947.0 1013.0,947.0C1021.5,947.0 1030.0,947.0 1038.5,946.8C1039.5,946.8 1040.5,933.6 1041.5,933.6C1042.9,933.6 1044.4,943.7 1045.8,943.7C1047.0,943.7 1048.1,927.1 1049.3,924.8C1050.9,921.7 1052.4,919.4 1054.0,919.4C1055.0,919.4 1056.0,933.0 1057.0,933.0C1057.9,933.0 1058.7,923.5 1059.6,923.5C1060.2,923.5 1060.9,940.1 1061.5,940.1C1062.6,940.1 1063.7,930.3 1064.8,928.2C1065.5,926.9 1066.2,925.4 1066.9,925.4C1067.4,925.4 1067.9,934.9 1068.4,940.3C1068.9,946.0 1069.5,959.1 1070.0,959.1C1070.5,959.1 1071.0,946.0 1071.5,940.3C1071.9,935.7 1072.3,927.6 1072.7,927.6C1073.8,927.6 1074.9,928.3 1076.0,929.1C1077.1,929.9 1078.3,933.4 1079.4,936.0C1080.8,939.3 1082.3,947.4 1083.7,947.9C1087.7,949.3 1091.7,949.8 1095.7,949.8C1098.6,949.8 1101.5,949.8 1104.4,949.8C1106.1,949.8 1107.8,952.8 1109.5,952.8C1112.0,952.8 1114.5,952.0 1117.0,952.0C1119.5,952.0 1122.0,955.7 1124.5,956.5C1126.6,957.1 1128.6,957.1 1130.7,957.8C1132.2,958.3 1133.8,961.6 1135.3,961.6C1136.3,961.6 1137.3,957.4 1138.3,956.5C1141.6,953.6 1145.0,951.5 1148.3,951.5C1154.1,951.5 1160.0,951.7 1165.8,952.0C1170.0,952.2 1174.1,954.0 1178.3,955.8C1181.2,957.1 1184.2,962.1 1187.1,962.1C1190.0,962.1 1193.0,962.1 1195.9,962.1C1198.0,962.1 1200.0,959.0 1202.1,959.0C1204.9,959.0 1207.6,961.6 1210.4,961.6C1213.1,961.6 1215.7,958.1 1218.4,957.3C1223.4,955.8 1228.5,954.5 1233.5,954.5C1255.6,954.5 1277.6,954.6 1299.7,955.1C1301.4,955.1 1303.1,955.9 1304.8,955.9C1307.1,955.9 1309.3,955.1 1311.6,955.1C1316.2,955.1 1320.7,955.4 1325.3,955.4C1327.6,955.4 1329.8,953.8 1332.1,953.0C1338.9,950.6 1345.8,948.1 1352.6,945.7C1359.4,943.3 1366.2,941.2 1373.0,938.8C1375.3,938.0 1377.6,937.6 1379.9,936.3C1381.3,935.5 1382.7,932.0 1384.1,932.0C1385.0,932.0 1385.8,937.9 1386.7,939.7C1388.1,942.7 1389.6,945.6 1391.0,946.5C1393.3,948.0 1395.5,949.1 1397.8,949.1C1398.6,949.1 1399.5,944.9 1400.3,944.8C1401.5,944.6 1402.6,944.5 1403.8,944.5C1405.2,944.5 1406.6,947.0 1408.0,947.0C1411.7,947.0 1415.4,943.3 1419.1,942.8C1422.5,942.3 1425.9,941.9 1429.3,941.9C1431.6,941.9 1433.9,947.0 1436.2,947.0C1437.6,947.0 1439.0,945.9 1440.4,944.8C1441.5,943.9 1442.7,940.0 1443.8,940.0C1445.8,940.0 1447.8,941.6 1449.8,942.8C1451.8,944.0 1453.8,947.5 1455.8,948.2C1457.2,948.7 1458.6,948.6 1460.0,949.1C1462.3,949.9 1464.6,955.9 1466.9,955.9C1468.3,955.9 1469.7,955.1 1471.1,955.1C1472.5,955.1 1474.0,955.9 1475.4,955.9C1478.8,955.9 1482.2,955.9 1485.6,955.9C1489.1,955.9 1492.6,955.6 1496.1,954.9C1497.7,954.6 1499.3,952.1 1500.9,947.7C1501.8,945.2 1502.7,937.6 1503.6,925.0C1504.3,915.2 1505.0,883.8 1505.7,850.2C1506.1,832.6 1506.4,776.7 1506.8,776.7C1507.3,776.7 1507.9,776.7 1508.4,776.7C1508.9,776.7 1509.5,828.7 1510.0,850.2C1510.7,878.4 1511.4,916.1 1512.1,925.0C1513.1,937.2 1514.0,942.9 1515.0,946.4C1516.4,951.3 1517.7,954.2 1519.1,955.7C1522.1,959.1 1525.1,961.9 1528.1,961.9C1530.8,961.9 1533.4,960.2 1536.1,959.2C1539.0,958.1 1541.8,957.5 1544.7,955.7C1547.2,954.1 1549.7,949.2 1552.2,945.0C1554.4,941.3 1556.6,937.6 1558.8,931.7C1560.3,927.6 1561.9,921.5 1563.4,914.3C1564.6,908.8 1565.7,901.6 1566.9,893.0C1568.0,884.6 1569.2,871.9 1570.3,860.9C1571.2,852.2 1572.1,841.4 1573.0,834.2C1574.1,825.6 1575.1,815.7 1576.2,812.8C1577.5,809.2 1578.9,806.2 1580.2,806.2C1581.5,806.2 1582.9,810.7 1584.2,812.8C1586.0,815.6 1587.8,820.9 1589.6,820.9C1591.4,820.9 1593.1,818.2 1594.9,815.5C1596.8,812.6 1598.6,806.3 1600.5,796.8C1601.7,790.5 1603.0,774.5 1604.2,762.1C1605.3,751.4 1606.3,737.2 1607.4,727.4C1608.0,722.2 1608.5,713.4 1609.1,713.4C1609.6,713.4 1610.2,713.4 1610.7,713.4C1611.2,713.4 1611.8,721.1 1612.3,727.4C1613.2,737.6 1614.0,760.7 1614.9,778.1C1615.8,796.2 1616.7,819.2 1617.6,834.2C1618.8,853.7 1619.9,870.2 1621.1,882.3C1622.2,893.3 1623.2,902.5 1624.3,909.0C1625.6,917.1 1627.0,922.8 1628.3,927.7C1629.8,933.2 1631.3,937.7 1632.8,941.0C1634.9,945.6 1636.9,949.8 1639.0,951.7C1642.1,954.5 1645.2,955.9 1648.3,957.1C1650.5,958.0 1652.8,959.2 1655.0,959.2C1656.8,959.2 1658.5,957.0 1660.3,954.4C1661.6,952.4 1663.0,943.8 1664.3,941.0C1666.1,937.2 1667.9,933.0 1669.7,933.0C1670.8,933.0 1671.8,935.2 1672.9,937.0C1674.1,939.0 1675.2,946.9 1676.4,946.9C1678.2,946.9 1679.9,945.7 1681.7,943.7C1682.9,942.4 1684.0,935.2 1685.2,927.7C1686.4,919.8 1687.7,901.1 1688.9,887.6C1690.5,870.0 1692.1,855.3 1693.7,834.2C1695.0,816.6 1696.4,791.3 1697.7,770.1C1698.4,758.5 1699.2,741.7 1699.9,735.4C1700.2,733.1 1700.4,730.2 1700.7,730.2C1701.2,730.2 1701.8,730.2 1702.3,730.2C1702.5,730.2 1702.6,739.3 1702.8,743.4C1703.6,763.1 1704.4,779.0 1705.2,796.8C1706.0,814.6 1706.8,835.9 1707.6,850.2C1708.6,867.5 1709.5,883.0 1710.5,893.0C1711.5,903.4 1712.5,911.7 1713.5,917.0C1714.9,924.4 1716.3,929.0 1717.7,933.0C1719.5,938.1 1721.3,943.0 1723.1,945.0C1724.7,946.7 1726.3,948.5 1727.9,948.5C1729.4,948.5 1730.9,946.9 1732.4,945.0C1733.7,943.3 1735.1,931.6 1736.4,930.9C1738.0,930.1 1739.6,929.6 1741.2,929.6C1742.9,929.6 1744.6,929.7 1746.3,929.8C1747.2,929.9 1748.1,932.7 1749.0,936.2C1750.0,939.9 1750.9,967.9 1751.9,967.9C1752.4,967.9 1752.8,947.7 1753.3,943.7C1753.7,940.0 1754.2,936.2 1754.6,936.2C1755.2,936.2 1755.9,936.5 1756.5,937.0C1757.4,937.6 1758.2,943.8 1759.1,947.7C1759.9,951.3 1760.7,959.3 1761.5,959.7C1763.8,960.8 1766.2,961.1 1768.5,961.1C1770.7,961.1 1773.0,957.9 1775.2,957.9C1776.5,957.9 1777.7,960.6 1779.0,961.9"/>
<g class="ann">
<line x1="769.6" y1="180" x2="803" y2="203.6" stroke-width="4.3"/>
<line x1="1426.6" y1="141.3" x2="1508" y2="141.3" stroke-width="3"/>
<line x1="1546.9" y1="130.8" x2="1583.5" y2="166.9" stroke-width="4.4"/>
<line x1="1568.2" y1="71.4" x2="1604.6" y2="96.7" stroke-width="4.4"/>
<line x1="1652.6" y1="43.8" x2="1697.6" y2="76.6" stroke-width="4.4"/>
<line x1="1655.8" y1="231.7" x2="1669.2" y2="267.3" stroke-width="3.4"/>
</g>
<g fill="#000" shape-rendering="crispEdges">
<rect x="167" y="38" width="5" height="961"/>
<rect x="167" y="994" width="1656.5" height="5"/>
<rect x="373.4" y="976.5" width="4.6" height="18"/>
<rect x="579.8" y="976.5" width="4.6" height="18"/>
<rect x="786.2" y="976.5" width="4.6" height="18"/>
<rect x="992.7" y="976.5" width="4.6" height="18"/>
<rect x="1199.1" y="976.5" width="4.6" height="18"/>
<rect x="1405.5" y="976.5" width="4.6" height="18"/>
<rect x="1612.0" y="976.5" width="4.6" height="18"/>
<rect x="1818.4" y="976.5" width="4.6" height="18"/>
<rect x="270.4" y="985.5" width="4.2" height="9"/>
<rect x="476.8" y="985.5" width="4.2" height="9"/>
<rect x="683.2" y="985.5" width="4.2" height="9"/>
<rect x="889.7" y="985.5" width="4.2" height="9"/>
<rect x="1096.1" y="985.5" width="4.2" height="9"/>
<rect x="1302.5" y="985.5" width="4.2" height="9"/>
<rect x="1509.0" y="985.5" width="4.2" height="9"/>
<rect x="1715.4" y="985.5" width="4.2" height="9"/>
</g>
<g class="sans" font-size="37" fill="#000" text-anchor="middle">
<text x="169.7" y="1046.1">4500</text>
<text x="376.1" y="1046.1">4000</text>
<text x="582.5" y="1046.1">3500</text>
<text x="788.9" y="1046.1">3000</text>
<text x="995.4" y="1046.1">2500</text>
<text x="1201.8" y="1046.1">2000</text>
<text x="1408.2" y="1046.1">1500</text>
<text x="1614.7" y="1046.1">1000</text>
<text x="1821.1" y="1046.1">500</text>
</g>
<text class="sans" x="754.4" y="1134.8" font-size="54.2" fill="#000">Wave number / cm<tspan font-size="33" dy="-29" dx="0.5">-1</tspan></text>
<text class="sans" font-size="53" fill="#000" transform="translate(101.6,739.3) rotate(-90)">Absorbance / a.u.</text>
<g class="sans" font-size="45.2">
<text x="194.3" y="299" fill="#ff00ff">ES-50</text>
<text x="197.2" y="468" fill="#808000">ES-40</text>
<text x="200.3" y="634.1" fill="#0000ff">ES-30</text>
<text x="203.3" y="806.9" fill="#ff0000">ES-20</text>
<text x="203.3" y="966" fill="#000000">ES-10</text>
</g>
<text class="serif" x="29.5" y="104.2" font-size="100" fill="#000">(a)</text>
</svg>
</body></html>
